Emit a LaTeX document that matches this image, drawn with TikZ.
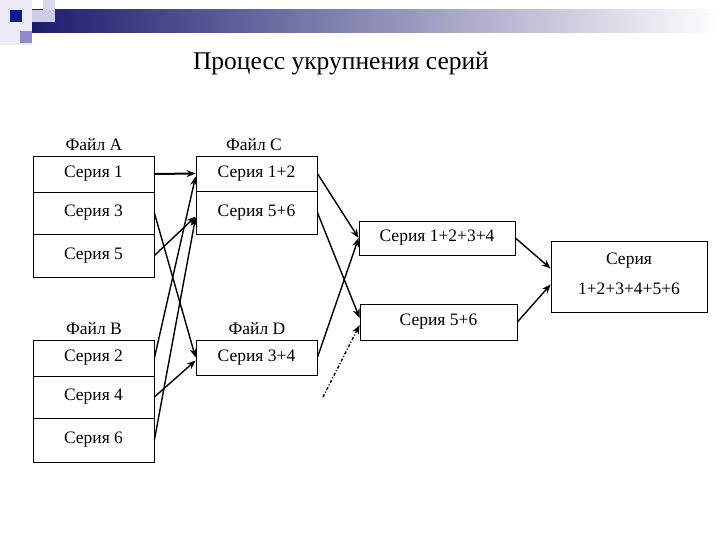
\documentclass[tikz,border=0pt]{standalone}
\usepackage{fontspec}
\setmainfont{Liberation Serif}
\usetikzlibrary{arrows.meta,calc}
\definecolor{navyhead}{RGB}{28,28,110}
\definecolor{darksq}{RGB}{24,24,150}
\definecolor{midsq}{RGB}{140,140,200}
\definecolor{lightsq}{RGB}{205,205,232}
\definecolor{palebg}{RGB}{236,236,246}
\begin{document}
\begin{tikzpicture}[x=1pt,y=-1pt,
  box/.style={draw,line width=0.8pt,inner sep=0pt,font=\fontsize{17.5}{21}\selectfont},
  lbl/.style={anchor=base,font=\fontsize{17.5}{21}\selectfont},
  arr/.style={line width=1.4pt,-{Stealth[length=9pt,width=7pt]}}]
\useasboundingbox (0,0) rectangle (720,540);
% header decoration
\fill[palebg] (0,0) rectangle (32,45);
\shade[left color=navyhead,right color=white] (32,10) rectangle (720,33);
\fill[lightsq] (32,10) rectangle (55,22);
\fill[lightsq!80!white] (43,0) rectangle (55,10);
\fill[darksq] (10,10) rectangle (22,22);
\fill[midsq] (20,31) rectangle (32,43);
% title
\node[anchor=base,font=\fontsize{25.5}{30}\selectfont] (title) at (341,70) {Процесс укрупнения серий};
% labels
\node[lbl] (la) at (94,151) {Файл A};
\node[lbl] (lc) at (254,151) {Файл C};
\node[lbl] (lb) at (94,334) {Файл B};
\node[lbl] (ld) at (257,334) {Файл D};
% file A
\node[box,minimum width=121pt,minimum height=36pt] (s1) at (93.5,174) {Серия 1};
\node[box,minimum width=121pt,minimum height=42pt] (s3) at (93.5,213) {Серия 3};
\node[box,minimum width=121pt,minimum height=43pt] (s5) at (93.5,255.5) {Серия 5};
% file C
\node[box,minimum width=121pt,minimum height=35pt] (s12) at (256.5,173.5) {Серия 1+2};
\node[box,minimum width=121pt,minimum height=43pt] (s56a) at (256.5,212.5) {Серия 5+6};
% file B
\node[box,minimum width=121pt,minimum height=36pt] (s2) at (93.5,358) {Серия 2};
\node[box,minimum width=121pt,minimum height=42pt] (s4) at (93.5,397) {Серия 4};
\node[box,minimum width=121pt,minimum height=44pt] (s6) at (93.5,440) {Серия 6};
% file D
\node[box,minimum width=121pt,minimum height=35pt] (s34) at (256.5,357.5) {Серия 3+4};
% next level
\node[box,minimum width=156pt,minimum height=34pt] (s1234) at (437,238) {Серия 1+2+3+4};
\node[box,minimum width=157pt,minimum height=36pt] (s56b) at (438.5,322) {Серия 5+6};
\node[box,minimum width=156pt,minimum height=71pt,align=center,text depth=6pt] (fin) at (629,276.5) {Серия\\[9pt]1+2+3+4+5+6};
% arrows
\draw[arr,line width=2pt] (s1.east) -- (s12.west);
\draw[arr] (s3.east) -- (s34.west);
\draw[arr] (s5.east) -- ($(s56a.west)+(0,4)$);
\draw[arr] (s2.east) -- ($(s12.west)+(0,3)$);
\draw[arr] (s4.east) -- ($(s34.west)+(0,3)$);
\draw[arr] (s6.east) -- ($(s56a.west)+(0,5)$);
\draw[arr] (s12.east) -- (s1234.west);
\draw[arr] (s56a.east) -- ($(s56b.west)+(0,-4)$);
\draw[arr] (s34.east) -- (s1234.west);
\coordinate (dstart) at (323,397);
\draw[line width=1.4pt,dash pattern=on 3pt off 2pt on 1pt off 2pt,-{Stealth[length=9pt,width=7pt]}] (dstart) -- ($(s56b.west)+(0,3)$);
\draw[arr] (s1234.east) -- ($(fin.west)+(0,-8)$);
\draw[arr] (s56b.east) -- ($(fin.west)+(0,8)$);
\end{tikzpicture}
\end{document}
